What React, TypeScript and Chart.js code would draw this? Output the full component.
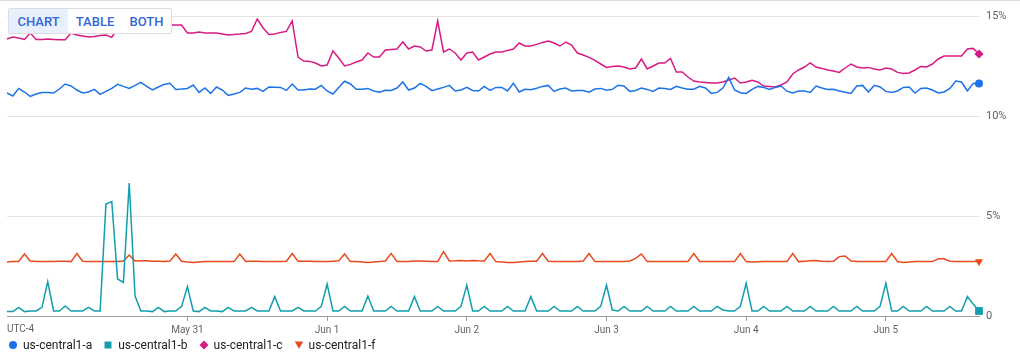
import React, { useEffect, useRef } from "react";
import { Chart, registerables } from "chart.js";

Chart.register(...registerables);

// x = hours since the start of the window (May 29, 17:00 UTC-4)
const seriesNames = ["us-central1-a", "us-central1-b", "us-central1-c", "us-central1-f"];
const seriesColors = ["#1a73e8", "#129eaf", "#d81b84", "#e8491d"];
const pointStyles = ["circle", "rect", "rectRot", "triangle"];
const pointRotations = [0, 0, 0, 180];
const pointSizes = [4, 5.5, 4.6, 4.6];

const dayTicks = [31, 55, 79, 103, 127, 151];
const dayLabels = ["May 31", "Jun 1", "Jun 2", "Jun 3", "Jun 4", "Jun 5"];
const yTicks = [0, 5, 10, 15];
const yTickLabels = ["0", "5%", "10%", "15%"];

const zoneA = [
  11.15, 11.0, 11.38, 11.2, 10.98, 11.1, 11.17, 11.17, 11.15, 11.35,
  11.6, 11.5, 11.3, 11.15, 11.2, 11.33, 11.08, 11.23, 11.38, 11.58,
  11.48, 11.38, 11.53, 11.68, 11.48, 11.3, 11.45, 11.58, 11.64, 11.33,
  11.35, 11.38, 11.55, 11.18, 11.4, 11.13, 11.45, 11.3, 11.03, 11.1,
  11.18, 11.4, 11.34, 11.38, 11.23, 11.45, 11.44, 11.43, 11.28, 11.6,
  11.3, 11.3, 11.35, 11.34, 11.53, 11.25, 11.1, 11.43, 11.74, 11.6,
  11.34, 11.34, 11.38, 11.25, 11.19, 11.29, 11.28, 11.4, 11.7, 11.3,
  11.4, 11.63, 11.48, 11.27, 11.35, 11.43, 11.53, 11.25, 11.3, 11.43,
  11.28, 11.25, 11.48, 11.28, 11.43, 11.43, 11.25, 11.64, 11.2, 11.34,
  11.31, 11.39, 11.48, 11.53, 11.23, 11.35, 11.4, 11.25, 11.28, 11.27,
  11.19, 11.35, 11.38, 11.29, 11.33, 11.54, 11.5, 11.23, 11.28, 11.4,
  11.33, 11.23, 11.4, 11.38, 11.33, 11.48, 11.4, 11.34, 11.34, 11.48,
  11.4, 11.13, 11.18, 11.4, 11.93, 11.3, 11.16, 11.13, 11.33, 11.48,
  11.43, 11.33, 11.43, 11.5, 11.24, 11.15, 11.25, 11.25, 11.18, 11.5,
  11.4, 11.33, 11.34, 11.25, 11.19, 11.13, 11.5, 11.53, 11.2, 11.53,
  11.45, 11.23, 11.18, 11.25, 11.43, 11.45, 11.15, 11.38, 11.4, 11.3,
  11.15, 11.2, 11.38, 11.75, 11.7, 11.25, 11.63, 11.62,
];

const zoneB = [
  0.22, 0.22, 0.43, 0.22, 0.25, 0.25, 0.43, 1.72, 0.25, 0.25,
  0.5, 0.25, 0.25, 0.25, 0.43, 0.25, 0.25, 5.6, 5.72, 1.85,
  1.68, 6.65, 1.0, 0.25, 0.25, 0.22, 0.43, 0.22, 0.25, 0.25,
  0.48, 1.47, 0.25, 0.22, 0.43, 0.25, 0.25, 0.22, 0.43, 0.25,
  0.25, 0.25, 0.43, 0.25, 0.25, 0.25, 0.97, 0.25, 0.25, 0.25,
  0.43, 0.25, 0.25, 0.25, 0.48, 1.6, 0.25, 0.25, 0.48, 0.25,
  0.25, 0.25, 1.0, 0.25, 0.25, 0.25, 0.48, 0.25, 0.25, 0.25,
  0.97, 0.25, 0.25, 0.25, 0.48, 0.25, 0.25, 0.25, 0.48, 1.55,
  0.25, 0.25, 0.48, 0.25, 0.25, 0.25, 0.48, 0.25, 0.25, 0.25,
  0.97, 0.25, 0.25, 0.25, 0.48, 0.25, 0.25, 0.25, 0.48, 0.25,
  0.25, 0.25, 0.48, 1.55, 0.3, 0.25, 0.48, 0.25, 0.25, 0.25,
  0.48, 0.25, 0.25, 0.25, 0.48, 0.25, 0.25, 0.25, 0.48, 0.25,
  0.25, 0.25, 0.48, 0.3, 0.25, 0.25, 0.48, 1.63, 0.25, 0.25,
  0.48, 0.25, 0.25, 0.25, 0.48, 0.25, 0.25, 0.25, 0.48, 0.25,
  0.25, 0.25, 0.48, 0.25, 0.25, 0.25, 0.48, 0.25, 0.25, 0.25,
  0.48, 1.63, 0.25, 0.25, 0.48, 0.25, 0.25, 0.25, 0.48, 0.25,
  0.25, 0.25, 0.48, 0.25, 0.25, 0.97, 0.6, 0.25,
];

const zoneC = [
  13.85, 13.95, 13.9, 13.83, 14.15, 13.83, 13.83, 13.85, 13.83, 13.81,
  13.81, 14.15, 14.05, 14.0, 13.95, 13.98, 14.03, 14.05, 13.93, 14.4,
  14.45, 14.5, 14.45, 14.5, 14.55, 14.5, 14.45, 14.5, 14.55, 14.55,
  14.55, 14.15, 14.15, 14.2, 14.15, 14.15, 14.15, 14.1, 14.05, 14.08,
  14.1, 14.13, 14.23, 14.85, 14.4, 14.08, 14.1, 14.18, 14.23, 14.75,
  12.95, 12.75, 12.73, 12.65, 12.5, 12.55, 13.25, 12.9, 12.5, 12.58,
  12.7, 12.8, 13.15, 12.95, 12.95, 13.3, 13.33, 13.35, 13.7, 13.35,
  13.5, 13.45, 13.25, 13.3, 14.75, 13.2, 13.35, 13.15, 12.8, 13.15,
  13.2, 12.8, 12.95, 13.1, 13.2, 13.2, 13.28, 13.35, 13.65, 13.5,
  13.5, 13.58, 13.68, 13.75, 13.65, 13.5, 13.7, 13.55, 13.15, 13.05,
  12.93, 12.78, 12.6, 12.43, 12.48, 12.5, 12.45, 12.35, 12.4, 12.85,
  12.35, 12.5, 12.65, 12.65, 12.88, 12.2, 12.2, 11.95, 11.75, 11.7,
  11.68, 11.65, 11.65, 11.7, 11.8, 11.9, 11.65, 11.7, 11.78, 11.7,
  11.5, 11.48, 11.45, 11.55, 11.7, 12.1, 12.3, 12.45, 12.65, 12.45,
  12.38, 12.3, 12.25, 12.18, 12.4, 12.6, 12.45, 12.4, 12.43, 12.35,
  12.3, 12.4, 12.35, 12.18, 12.13, 12.15, 12.3, 12.48, 12.45, 12.6,
  12.85, 13.0, 13.0, 13.0, 13.0, 13.35, 13.38, 13.1,
];

const zoneF = [
  2.7, 2.72, 2.73, 3.1, 2.75, 2.72, 2.72, 2.73, 2.73, 2.74,
  2.74, 2.72, 3.12, 2.74, 2.72, 2.72, 2.72, 2.72, 2.72, 2.73,
  2.75, 3.05, 2.75, 2.76, 2.76, 2.74, 2.74, 2.73, 2.75, 3.1,
  2.74, 2.7, 2.68, 2.7, 2.72, 2.72, 2.72, 2.72, 2.72, 2.72,
  3.1, 2.73, 2.74, 2.74, 2.73, 2.72, 2.73, 2.72, 2.74, 3.12,
  2.74, 2.74, 2.74, 2.73, 2.72, 2.72, 2.74, 2.76, 3.1, 2.72,
  2.72, 2.7, 2.68, 2.7, 2.72, 2.75, 3.13, 2.72, 2.72, 2.73,
  2.75, 2.75, 2.74, 2.72, 2.72, 3.22, 2.75, 2.76, 2.78, 2.75,
  2.78, 2.76, 2.75, 3.12, 2.72, 2.7, 2.68, 2.68, 2.7, 2.72,
  2.74, 2.74, 3.12, 2.74, 2.73, 2.72, 2.72, 2.72, 2.73, 2.75,
  3.12, 2.72, 2.72, 2.72, 2.72, 2.72, 2.73, 2.75, 2.88, 3.1,
  2.72, 2.72, 2.72, 2.72, 2.72, 2.72, 2.72, 2.73, 3.12, 2.73,
  2.72, 2.72, 2.72, 2.72, 2.72, 2.72, 3.12, 2.72, 2.7, 2.71,
  2.72, 2.72, 2.72, 2.72, 2.72, 3.12, 2.72, 2.74, 2.76, 2.78,
  2.74, 2.73, 2.74, 2.97, 3.0, 2.75, 2.72, 2.72, 2.72, 2.72,
  2.72, 2.73, 3.12, 2.72, 2.68, 2.7, 2.72, 2.72, 2.72, 2.72,
  2.86, 2.86, 2.74, 2.72, 2.72, 2.72, 2.72, 2.72,
];

const seriesValues = [zoneA, zoneB, zoneC, zoneF];

const AXIS = "#9aa0a6";
const GRID = "#e3e3e3";
const LABEL = "#5f6368";

function LegendMarker({ i }: { i: number }) {
  const c = seriesColors[i];
  let shape: React.ReactNode = null;
  if (i === 0) shape = <circle cx="5" cy="5" r="4" fill={c} />;
  if (i === 1) shape = <rect x="1.5" y="1.5" width="7" height="7" fill={c} />;
  if (i === 2) shape = <polygon points="5,0.5 9.5,5 5,9.5 0.5,5" fill={c} />;
  if (i === 3) shape = <polygon points="0.8,1.5 9.2,1.5 5,8.8" fill={c} />;
  return (
    <svg width="10" height="10" style={{ display: "block", marginRight: 5 }}>
      {shape}
    </svg>
  );
}

export default function App() {
  const canvasRef = useRef<HTMLCanvasElement | null>(null);

  useEffect(() => {
    if (!canvasRef.current) return;
    Chart.defaults.font.family = "Roboto";
    const datasets = seriesValues.map((vals, si) => {
      const last = vals.length - 1;
      return {
        label: seriesNames[si],
        data: vals.map((v, i) => ({ x: i, y: v })),
        borderColor: seriesColors[si],
        backgroundColor: seriesColors[si],
        borderWidth: 1.5,
        tension: 0,
        fill: false,
        clip: false as any,
        pointStyle: pointStyles[si] as any,
        pointRotation: pointRotations[si],
        pointRadius: (ctx: any) => (ctx.dataIndex === last ? pointSizes[si] : 0),
        pointHoverRadius: 0,
        pointBorderWidth: 0,
        pointBackgroundColor: seriesColors[si],
      };
    });

    const chart = new Chart(canvasRef.current, {
      type: "line",
      data: { datasets: datasets as any },
      options: {
        animation: false,
        responsive: false,
        events: [],
        layout: { padding: { left: 7, top: 16, right: 0, bottom: 0 } },
        plugins: {
          legend: { display: false },
          tooltip: { enabled: false },
        },
        scales: {
          x: {
            type: "linear",
            min: 0,
            max: 167,
            afterBuildTicks: (s: any) => {
              s.ticks = dayTicks.map((v) => ({ value: v }));
            },
            afterFit: (s: any) => {
              s.height = 45;
            },
            ticks: {
              autoSkip: false,
              maxRotation: 0,
              padding: 3,
              color: LABEL,
              font: { size: 10 },
              callback: (val: any) => {
                const k = dayTicks.indexOf(Number(val));
                return k >= 0 ? dayLabels[k] : "";
              },
            },
            grid: {
              drawOnChartArea: false,
              drawTicks: true,
              tickLength: 5,
              color: AXIS,
            },
            border: { display: true, color: AXIS, width: 1 },
          },
          y: {
            type: "linear",
            position: "right",
            min: 0,
            max: 15,
            afterBuildTicks: (s: any) => {
              s.ticks = yTicks.map((v) => ({ value: v }));
            },
            afterFit: (s: any) => {
              s.width = 41;
            },
            ticks: {
              padding: 7,
              color: LABEL,
              font: { size: 11 },
              callback: (val: any) => {
                const k = yTicks.indexOf(Number(val));
                return k >= 0 ? yTickLabels[k] : "";
              },
            },
            grid: {
              drawTicks: false,
              color: (ctx: any) => (ctx.tick && ctx.tick.value === 0 ? AXIS : GRID),
            },
            border: { display: false },
          },
        },
      },
    });
    return () => chart.destroy();
  }, []);

  const btn = (text: string, active: boolean, w: number) => (
    <div
      style={{
        width: w,
        height: "100%",
        display: "flex",
        alignItems: "center",
        justifyContent: "center",
        background: active ? "#e8f0fe" : "transparent",
        color: "#3367d6",
        fontSize: 13,
        fontWeight: 500,
      }}
    >
      {text}
    </div>
  );

  return (
    <div
      style={{
        position: "absolute",
        left: 0,
        top: 0,
        width: 1020,
        height: 361,
        fontFamily: "Roboto, sans-serif",
        background: "#fff",
        overflow: "hidden",
      }}
    >
      <canvas
        ref={canvasRef}
        width={1020}
        height={361}
        style={{ position: "absolute", left: 0, top: 0, width: 1020, height: 361 }}
      />
      <div style={{ position: "absolute", left: 0, top: 0, width: 1020, height: 1, background: "#dadce0" }} />
      <div
        style={{
          position: "absolute",
          left: 8,
          top: 8,
          width: 162,
          height: 24,
          border: "1px solid #dadce0",
          borderRadius: 2,
          background: "#fff",
          display: "flex",
          overflow: "hidden",
        }}
      >
        {btn("CHART", true, 59)}
        {btn("TABLE", false, 54)}
        {btn("BOTH", false, 49)}
      </div>
      <div
        style={{
          position: "absolute",
          left: 7,
          top: 322,
          fontSize: 10,
          color: LABEL,
          lineHeight: "14px",
        }}
      >
        UTC-4
      </div>
      <div
        style={{
          position: "absolute",
          left: 8,
          top: 337,
          height: 16,
          display: "flex",
          alignItems: "center",
          fontSize: 12,
          color: "#202124",
        }}
      >
        {seriesNames.map((n, i) => (
          <div key={n} style={{ display: "flex", alignItems: "center", marginRight: 11 }}>
            <LegendMarker i={i} />
            <span>{n}</span>
          </div>
        ))}
      </div>
    </div>
  );
}
